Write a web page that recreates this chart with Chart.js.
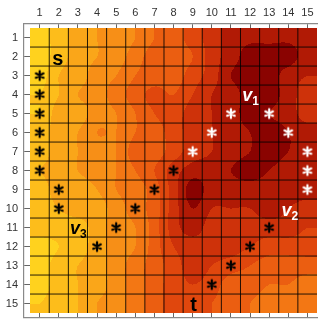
<!DOCTYPE html>
<html>
<head>
<meta charset="utf-8">
<script src="https://cdn.jsdelivr.net/npm/chart.js@4.4.1/dist/chart.umd.min.js"></script>
<style>
  html, body { margin: 0; padding: 0; background: #fff; }
  canvas { display: block; }
</style>
</head>
<body>
<canvas id="grid" width="323" height="330"></canvas>
<script>
// tick labels / positions (same on both axes)
const tickValues = [1, 2, 3, 4, 5, 6, 7, 8, 9, 10, 11, 12, 13, 14, 15];
const tickLabels = ['1', '2', '3', '4', '5', '6', '7', '8', '9', '10', '11', '12', '13', '14', '15'];

// background field, row 1..15 (top to bottom), column 1..15 (left to right)
const field = [
  [0.0, 1.0, 2.0, 2.5, 3.0, 3.5, 4.5, 5.0, 6.0, 7.0, 8.0, 8.3, 8.3, 8.3, 8.0],
  [0.0, 1.0, 2.0, 2.5, 3.0, 4.0, 5.0, 5.0, 5.5, 7.0, 8.0, 9.0, 9.0, 9.0, 8.0],
  [0.0, 1.5, 2.0, 3.0, 3.5, 4.5, 5.0, 5.0, 6.0, 7.0, 8.5, 9.0, 9.0, 8.0, 7.5],
  [0.5, 1.5, 2.5, 3.0, 4.0, 5.0, 5.8, 5.5, 6.5, 7.5, 8.0, 9.0, 9.0, 8.0, 7.0],
  [0.5, 2.0, 2.0, 3.0, 3.5, 4.5, 5.5, 6.0, 7.0, 7.5, 8.0, 9.0, 8.5, 8.0, 7.0],
  [1.0, 2.0, 2.5, 3.5, 3.5, 4.5, 5.0, 6.0, 7.0, 7.5, 8.0, 8.5, 9.0, 8.5, 8.0],
  [1.0, 2.0, 2.5, 3.0, 3.5, 5.0, 5.0, 6.0, 7.0, 7.5, 8.0, 8.5, 9.0, 8.5, 8.0],
  [1.5, 2.0, 2.5, 3.0, 3.5, 4.5, 5.5, 7.0, 8.0, 8.0, 8.5, 9.0, 8.5, 8.0, 8.0],
  [1.0, 2.0, 2.0, 2.5, 3.5, 4.0, 5.0, 7.0, 9.0, 8.0, 8.0, 8.0, 8.0, 8.0, 8.0],
  [1.0, 1.5, 2.0, 2.0, 3.0, 4.0, 5.0, 7.0, 8.5, 7.5, 7.5, 7.5, 8.0, 7.5, 7.0],
  [1.0, 1.0, 1.0, 2.0, 3.0, 3.5, 5.0, 7.0, 8.0, 7.0, 7.0, 7.0, 7.0, 7.0, 6.5],
  [0.0, 0.5, 1.0, 2.0, 3.0, 3.5, 5.0, 6.5, 7.0, 7.0, 7.0, 6.5, 6.0, 6.0, 6.0],
  [0.0, 1.0, 1.5, 2.0, 3.0, 4.0, 5.0, 6.0, 7.0, 6.5, 6.0, 5.5, 5.0, 5.0, 5.0],
  [0.0, 1.0, 1.5, 2.0, 3.0, 4.0, 5.0, 6.0, 6.5, 6.0, 5.0, 5.0, 4.5, 4.5, 4.0],
  [0.5, 1.0, 1.5, 2.5, 3.0, 4.0, 5.0, 6.0, 6.0, 5.5, 5.0, 4.5, 4.0, 4.0, 3.5]
];

// path cells marked with an asterisk
const blackStarX = [1, 1, 1, 1, 1, 1, 2, 2, 8, 7, 6, 5, 4, 13, 12, 11, 10];
const blackStarY = [3, 4, 5, 6, 7, 8, 9, 10, 8, 9, 10, 11, 12, 11, 12, 13, 14];
const whiteStarX = [11, 13, 10, 14, 9, 15, 15, 15];
const whiteStarY = [5, 5, 6, 6, 7, 7, 8, 9];

// node labels
const labelText = ['s', 't', 'v', 'v', 'v'];
const labelSub = ['', '', '1', '2', '3'];
const labelX = [2, 9, 12, 14, 3];
const labelY = [2, 15, 4, 10, 11];

function toPoints(xs, ys) {
  return xs.map((v, i) => ({ x: v, y: ys[i] }));
}

function makeStar(color) {
  const c = document.createElement('canvas');
  c.width = 14; c.height = 14;
  const g = c.getContext('2d');
  g.translate(7, 7);
  g.strokeStyle = color;
  g.lineWidth = 2.2;
  g.lineCap = 'round';
  g.beginPath();
  for (let k = 0; k < 3; k++) {
    const a = Math.PI / 2 + k * Math.PI / 3;
    g.moveTo(Math.cos(a) * 4.4, Math.sin(a) * 4.4);
    g.lineTo(-Math.cos(a) * 4.4, -Math.sin(a) * 4.4);
  }
  g.stroke();
  return c;
}

function cubic(p0, p1, p2, p3, t) {
  return p1 + 0.5 * t * (p2 - p0 + t * (2 * p0 - 5 * p1 + 4 * p2 - p3 + t * (3 * (p1 - p2) + p3 - p0)));
}

function sample(grid, cx, cy) {
  const n = grid.length, m = grid[0].length;
  cx = Math.min(Math.max(cx, 0), m - 1);
  cy = Math.min(Math.max(cy, 0), n - 1);
  const ix = Math.min(Math.floor(cx), m - 2), iy = Math.min(Math.floor(cy), n - 2);
  const tx = cx - ix, ty = cy - iy;
  const get = (r, c) => grid[Math.min(Math.max(r, 0), n - 1)][Math.min(Math.max(c, 0), m - 1)];
  const rows = [];
  for (let r = -1; r <= 2; r++) {
    rows.push(cubic(get(iy + r, ix - 1), get(iy + r, ix), get(iy + r, ix + 1), get(iy + r, ix + 2), tx));
  }
  return cubic(rows[0], rows[1], rows[2], rows[3], ty);
}

function hexToRgb(h) {
  return [parseInt(h.slice(1, 3), 16), parseInt(h.slice(3, 5), 16), parseInt(h.slice(5, 7), 16)];
}

const heatmapPlugin = {
  id: 'heatmap',
  beforeDatasetsDraw(chart, args, opts) {
    const { ctx, scales: { x, y } } = chart;
    const first = tickValues[0] - 0.5, last = tickValues[tickValues.length - 1] + 0.5;
    const left = Math.round(x.getPixelForValue(first));
    const right = Math.round(x.getPixelForValue(last));
    const top = Math.round(y.getPixelForValue(first));
    const bottom = Math.round(y.getPixelForValue(last));
    const w = right - left, h = bottom - top;
    const off = document.createElement('canvas');
    off.width = w; off.height = h;
    const octx = off.getContext('2d');
    const img = octx.createImageData(w, h);
    const pal = opts.palette.map(hexToRgb);
    for (let j = 0; j < h; j++) {
      const vy = y.getValueForPixel(top + j + 0.5) - 1;
      for (let i = 0; i < w; i++) {
        const vx = x.getValueForPixel(left + i + 0.5) - 1;
        let b = Math.round(sample(field, vx, vy));
        b = Math.min(Math.max(b, 0), pal.length - 1);
        const k = (j * w + i) * 4;
        img.data[k] = pal[b][0];
        img.data[k + 1] = pal[b][1];
        img.data[k + 2] = pal[b][2];
        img.data[k + 3] = 255;
      }
    }
    octx.putImageData(img, 0, 0);
    ctx.drawImage(off, left, top);

    // cell borders
    ctx.save();
    ctx.strokeStyle = opts.lineColor;
    ctx.lineWidth = 1;
    ctx.beginPath();
    for (let v = first + 1; v < last; v++) {
      const px = x.getPixelForValue(v);
      ctx.moveTo(px, top); ctx.lineTo(px, bottom);
      const py = y.getPixelForValue(v);
      ctx.moveTo(left, py); ctx.lineTo(right, py);
    }
    ctx.stroke();
    ctx.restore();
  }
};

const labelPlugin = {
  id: 'nodeLabels',
  afterDatasetsDraw(chart, args, opts) {
    const { ctx, scales: { x, y } } = chart;
    ctx.save();
    ctx.textAlign = 'left';
    ctx.textBaseline = 'alphabetic';
    labelText.forEach((txt, i) => {
      const px = x.getPixelForValue(labelX[i]) + opts.dx[i];
      const py = y.getPixelForValue(labelY[i]) + opts.dy[i];
      ctx.fillStyle = opts.colors[i];
      ctx.font = labelSub[i] ? opts.varFont : opts.nodeFont;
      const mMain = ctx.measureText(txt);
      let wSub = 0;
      if (labelSub[i]) {
        ctx.font = opts.subFont;
        wSub = ctx.measureText(labelSub[i]).width;
        ctx.font = opts.varFont;
      }
      const total = mMain.width + wSub;
      const sx = px - total / 2;
      const base = py + (mMain.actualBoundingBoxAscent - mMain.actualBoundingBoxDescent) / 2;
      ctx.fillText(txt, sx, base);
      if (labelSub[i]) {
        ctx.font = opts.subFont;
        ctx.fillText(labelSub[i], sx + mMain.width, base + 4);
      }
    });
    ctx.restore();
  }
};

Chart.defaults.font.family = '"Liberation Sans", Arial, sans-serif';
Chart.defaults.font.size = 11;
Chart.defaults.color = '#333';

const setTicks = (scale) => { scale.ticks = tickValues.map(v => ({ value: v })); };
const tickText = (v, i) => tickLabels[i];

new Chart(document.getElementById('grid'), {
  type: 'scatter',
  data: {
    datasets: [
      {
        data: toPoints(blackStarX, blackStarY),
        pointStyle: makeStar('#000'),
        pointRadius: 5,
        xAxisID: 'x', yAxisID: 'y'
      },
      {
        data: toPoints(whiteStarX, whiteStarY),
        pointStyle: makeStar('#fff'),
        pointRadius: 5,
        xAxisID: 'x', yAxisID: 'y'
      }
    ]
  },
  options: {
    responsive: false,
    devicePixelRatio: 1,
    animation: false,
    events: [],
    layout: { padding: { top: 0, left: 0, right: 0, bottom: 3 } },
    scales: {
      x: {
        type: 'linear',
        position: 'top',
        min: 0.18,
        max: 15.5,
        afterBuildTicks: setTicks,
        afterFit: (s) => { s.height = 23.5; },
        ticks: { callback: tickText, padding: 4, maxRotation: 0, autoSkip: false },
        grid: { color: '#666', lineWidth: 1, drawTicks: false },
        border: { display: true, color: '#8a8a8a', width: 1.2 }
      },
      xb: {
        type: 'linear',
        axis: 'x',
        position: 'bottom',
        min: 0.18,
        max: 15.5,
        afterFit: (s) => { s.height = 0; },
        ticks: { display: false },
        grid: { display: false, drawTicks: false },
        border: { display: true, color: '#8a8a8a', width: 1.2 }
      },
      y: {
        type: 'linear',
        position: 'left',
        reverse: true,
        min: 0.26,
        max: 15.73,
        afterBuildTicks: setTicks,
        afterFit: (s) => { s.width = 24; },
        ticks: { callback: tickText, padding: 6, autoSkip: false },
        grid: { color: '#666', lineWidth: 1, drawTicks: false },
        border: { display: true, color: '#8a8a8a', width: 1.2 }
      }
    },
    plugins: {
      legend: { display: false },
      tooltip: { enabled: false },
      heatmap: {
        palette: ['#FFD21E', '#FDBD1B', '#FAA619', '#F78F17', '#F37714', '#EB5E11', '#E0470D', '#CE320A', '#B11A05', '#8A0301'],
        lineColor: 'rgba(0,0,0,0.85)'
      },
      nodeLabels: {
        colors: ['#000', '#000', '#fff', '#fff', '#000'],
        dx: [-1, 1, 0.5, 1.5, 0.5],
        dy: [3, 0, 1.5, 2, 1],
        nodeFont: 'bold 20px "Liberation Sans", Arial, sans-serif',
        varFont: 'italic bold 18px "Liberation Sans", Arial, sans-serif',
        subFont: 'bold 12px "Liberation Sans", Arial, sans-serif'
      }
    }
  },
  plugins: [heatmapPlugin, labelPlugin]
});
</script>
</body>
</html>
